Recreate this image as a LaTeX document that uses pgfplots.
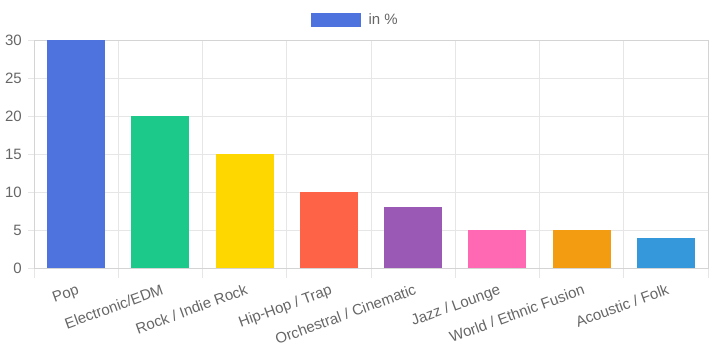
\documentclass[border=0pt]{standalone}
\usepackage{pgfplots}
\pgfplotsset{compat=1.18}
\usepackage{fontspec}
\setmainfont{Liberation Sans}
\definecolor{c1}{HTML}{4E73DF}
\definecolor{c2}{HTML}{1CC88A}
\definecolor{c3}{HTML}{FFD700}
\definecolor{c4}{HTML}{FF6347}
\definecolor{c5}{HTML}{9B59B6}
\definecolor{c6}{HTML}{FF69B4}
\definecolor{c7}{HTML}{F39C12}
\definecolor{c8}{HTML}{3498DB}
\definecolor{txt}{HTML}{666666}
\definecolor{gridc}{HTML}{E6E6E6}
\definecolor{axc}{HTML}{D4D4D4}
\begin{document}
\fontsize{15bp}{18bp}\selectfont
\begin{tikzpicture}
\useasboundingbox (-34bp,-86bp) rectangle (675bp,268bp);
\begin{axis}[
  at={(0,0)}, anchor=south west,
  scale only axis, width=674bp, height=228bp,
  xmin=-0.5, xmax=7.5, ymin=0, ymax=30,
  ytick={0,5,...,30},
  xtick={0,...,7},
  xticklabels={Pop, Electronic/EDM, Rock / Indie Rock, Hip-Hop / Trap, Orchestral / Cinematic, Jazz / Lounge, World / Ethnic Fusion, Acoustic / Folk},
  minor xtick={-0.5,0.5,...,7.5},
  xminorgrids, ymajorgrids, xmajorgrids=false,
  grid style={draw=gridc, line width=0.8bp},
  minor grid style={draw=gridc, line width=0.8bp},
  axis line style={draw=axc, line width=0.8bp},
  tick align=outside, tick pos=left,
  major tick length=6bp, minor tick length=10bp,
  every tick/.style={draw=gridc, line width=0.8bp},
  every major x tick/.append style={draw=none},
  /pgf/number format/assume math mode=true,
  tick label style={font=\fontsize{15bp}{18bp}\selectfont, text=txt},
  yticklabel style={inner sep=0pt, xshift=-6bp},
  xticklabel style={rotate=20, anchor=north east, inner sep=0pt, yshift=-9bp, xshift=-3bp},
  legend style={at={(0.4755,1)}, anchor=south, yshift=11bp, draw=none, fill=none,
    font=\fontsize{15bp}{18bp}\selectfont, text=txt,
    nodes={inner sep=0pt}, column sep=8bp},
  legend cell align=left,
  ybar, bar width=0.69,
]
\addlegendimage{legend image code/.code={\fill[c1] (0bp,-6.5bp) rectangle (49bp,6.5bp);}}
\addlegendentry{in \%}
\addplot[fill=c1, draw=none, bar shift=0pt, forget plot] coordinates {(0,30)};
\addplot[fill=c2, draw=none, bar shift=0pt, forget plot] coordinates {(1,20)};
\addplot[fill=c3, draw=none, bar shift=0pt, forget plot] coordinates {(2,15)};
\addplot[fill=c4, draw=none, bar shift=0pt, forget plot] coordinates {(3,10)};
\addplot[fill=c5, draw=none, bar shift=0pt, forget plot] coordinates {(4,8)};
\addplot[fill=c6, draw=none, bar shift=0pt, forget plot] coordinates {(5,5)};
\addplot[fill=c7, draw=none, bar shift=0pt, forget plot] coordinates {(6,5)};
\addplot[fill=c8, draw=none, bar shift=0pt, forget plot] coordinates {(7,4)};
\end{axis}
\end{tikzpicture}
\end{document}
